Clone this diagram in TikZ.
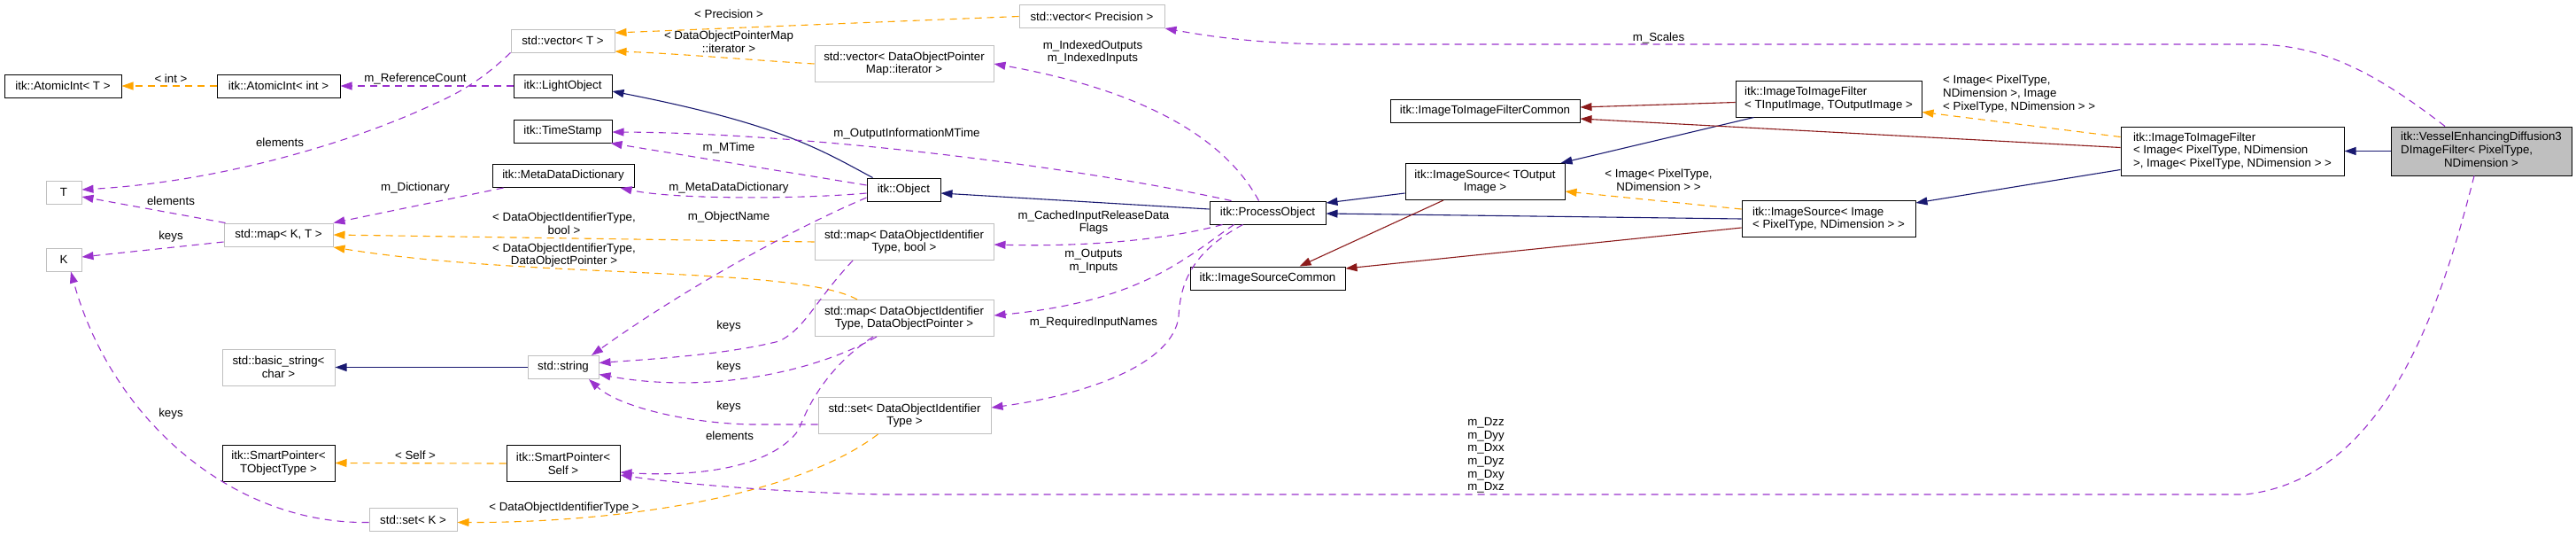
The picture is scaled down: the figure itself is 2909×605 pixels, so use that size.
\documentclass[tikz,border=0pt]{standalone}
\usepackage{fontspec}
\setmainfont{Liberation Sans}
\usetikzlibrary{arrows.meta}

\definecolor{inhblue}{HTML}{191970}
\definecolor{privred}{HTML}{8B1A1A}
\definecolor{tmplorange}{HTML}{FFA500}
\definecolor{usepurple}{HTML}{9A32CD}
\definecolor{extgray}{HTML}{BFBFBF}

\newcommand{\dxfont}{\fontsize{13.3}{14.6}\selectfont}

\tikzset{
  dx/.style={font=\dxfont, inner sep=2pt, line width=1pt},
  cls/.style={dx, draw=black, fill=white, align=center},
  ext/.style={dx, draw=extgray, fill=white, align=center},
  sz/.style 2 args={minimum width=#1pt, minimum height=#2pt},
  lbl/.style={font=\dxfont, inner sep=0pt, align=center},
  link/.style={line width=1.1pt, -{Triangle[length=13pt,width=9pt]}},
  inh/.style={link, draw=inhblue},
  priv/.style={link, draw=privred},
  tmpl/.style={link, draw=tmplorange, dash pattern=on 8pt off 6pt},
  use/.style={link, draw=usepurple, dash pattern=on 8pt off 6pt}
}

\begin{document}
\begin{tikzpicture}[x=1pt, y=-1pt]
  \useasboundingbox (0,0) rectangle (2909,605);

  % classes
  \node[cls, sz={132}{26}] (atomT) at (71,97) {itk::AtomicInt< T >};
  \node[cls, sz={139}{26}] (atomInt) at (314.5,97) {itk::AtomicInt< int >};
  \node[ext, sz={117}{26}] (vecT) at (635.5,46) {std::vector< T >};
  \node[cls, sz={111}{26}] (light) at (635.5,97) {itk::LightObject};
  \node[cls, sz={111}{26}] (tstamp) at (635.5,148) {itk::TimeStamp};
  \node[cls, sz={160}{26}] (mdd) at (636,198.5) {itk::MetaDataDictionary};
  \node[ext, sz={40}{26}] (tT) at (72,217) {T};
  \node[ext, sz={123}{26}] (mapKT) at (314.5,265) {std::map< K, T >};
  \node[ext, sz={40}{26}] (tK) at (72,293) {K};
  \node[ext, sz={127}{41}] (bstr) at (314.5,414.5) {std::basic\_string<\\char >};
  \node[ext, sz={80}{26}] (str) at (636,414.5) {std::string};
  \node[cls, sz={127}{41}] (spTOT) at (314.5,522.5) {itk::SmartPointer<\\TObjectType >};
  \node[cls, sz={128}{41}] (spSelf) at (636,523) {itk::SmartPointer<\\Self >};
  \node[ext, sz={99}{26}] (setK) at (466.5,586.5) {std::set< K >};
  \node[ext, sz={164}{26}] (vecPrec) at (1233,18.5) {std::vector< Precision >};
  \node[ext, sz={202}{41}] (vecIter) at (1021,72) {std::vector< DataObjectPointer\\Map::iterator >};
  \node[cls, sz={83}{26}] (obj) at (1020.5,214) {itk::Object};
  \node[ext, sz={202}{41}] (mapBool) at (1021,273) {std::map< DataObjectIdentifier\\Type, bool >};
  \node[ext, sz={202}{41}] (mapDOP) at (1021,359) {std::map< DataObjectIdentifier\\Type, DataObjectPointer >};
  \node[ext, sz={195}{41}] (setDOIT) at (1021.5,469) {std::set< DataObjectIdentifier\\Type >};
  \node[cls, sz={131}{26}] (proc) at (1431.5,240) {itk::ProcessObject};
  \node[cls, sz={175}{26}] (isc) at (1431.5,314) {itk::ImageSourceCommon};
  \node[cls, sz={214}{26}] (itifc) at (1677,125) {itk::ImageToImageFilterCommon};
  \node[cls, sz={210}{41}, align=left] (itifT) at (2065,111.5) {itk::ImageToImageFilter\\< TInputImage, TOutputImage >};
  \node[cls, sz={180}{41}] (isT) at (1677,205) {itk::ImageSource< TOutput\\Image >};
  \node[cls, sz={196}{41}, align=left] (isImg) at (2065,247) {itk::ImageSource< Image\\< PixelType, NDimension > >};
  \node[cls, sz={252}{55}, align=left] (itifImg) at (2521,170.5) {itk::ImageToImageFilter\\< Image< PixelType, NDimension\\ >, Image< PixelType, NDimension > >};
  \node[cls, sz={204}{55}, fill=extgray] (vessel) at (2802,170.5)
    {\begin{tabular}{@{}l@{}}itk::VesselEnhancingDiffusion3\\DImageFilter< PixelType,\\\multicolumn{1}{@{}c@{}}{NDimension >}\end{tabular}};

  % inheritance
  \draw[inh] ([xshift=7pt]obj.north west) .. controls (925,168) and (880,140) .. ([yshift=-6pt]light.east);
  \draw[inh] ([yshift=4pt]proc.west) -- ([yshift=-4pt]obj.east);
  \draw[inh] ([yshift=-13pt]isT.west) -- ([yshift=11pt]proc.east);
  \draw[inh] (isImg.west) -- ([yshift=-1pt]proc.east);
  \draw[inh] ([xshift=21pt]itifT.south west) -- ([xshift=-5pt]isT.north east);
  \draw[inh] ([yshift=-21pt]itifImg.west) -- ([yshift=18pt]isImg.east);
  \draw[inh] (vessel.west) -- (itifImg.east);
  \draw[inh] (str.west) -- (bstr.east);

  % private inheritance
  \draw[priv] ([yshift=-4pt]itifT.west) -- ([yshift=4pt]itifc.east);
  \draw[priv] ([yshift=4pt]itifImg.west) -- ([yshift=-9pt]itifc.east);
  \draw[priv] ([xshift=-47pt]isT.south) -- ([xshift=36pt]isc.north);
  \draw[priv] ([yshift=-10pt]isImg.west) -- ([yshift=11pt]isc.east);

  % template instances
  \draw[tmpl] (atomInt.west) -- (atomT.east);
  \draw[tmpl] (vecPrec.west) -- ([yshift=9pt]vecT.east);
  \draw[tmpl] (vecIter.west) .. controls (850,68) and (760,60) .. ([yshift=-12pt]vecT.east);
  \draw[tmpl] (mapBool.west) -- (mapKT.east);
  \draw[tmpl] ([xshift=-53pt]mapDOP.north) .. controls (900,300) and (600,315) .. ([yshift=-14pt]mapKT.east);
  \draw[tmpl] ([yshift=11pt]isImg.west) -- ([yshift=-11pt]isT.east);
  \draw[tmpl] ([yshift=16pt]itifImg.west) -- ([yshift=-15pt]itifT.east);
  \draw[tmpl] ([xshift=-30pt]setDOIT.south) .. controls (900,560) and (700,590) .. ([yshift=-3pt]setK.east);
  \draw[tmpl] (spSelf.west) -- (spTOT.east);

  % usage
  \draw[use] (light.west) -- (atomInt.east);
  \draw[use] (vecT.south west) .. controls (555,80) and (530,100) .. (491,117)
    .. controls (400,160) and (250,205) .. ([yshift=3pt]tT.east);
  \draw[use] ([xshift=2pt]mapKT.north west) -- ([yshift=-5pt]tT.east);
  \draw[use] ([yshift=-8pt]mapKT.west) -- ([yshift=3pt]tK.east);
  \draw[use] ([yshift=-3pt]setK.west) .. controls (260,592) and (125,470) .. ([xshift=8pt]tK.south);
  \draw[use] ([xshift=13pt]mdd.south west) -- (mapKT.north east);
  \draw[use] ([yshift=5pt]obj.west) -- ([xshift=-2pt]tstamp.south east);
  \draw[use] ([xshift=-41pt]proc.north) .. controls (1200,185) and (900,150) .. ([yshift=-1pt]tstamp.east);
  \draw[use] ([yshift=-4pt]obj.west) .. controls (900,225) and (760,225) .. ([xshift=-16pt]mdd.south east);
  \draw[use] ([yshift=-9pt]obj.west) .. controls (880,265) and (760,335) .. ([xshift=32pt]str.north);
  \draw[use] ([xshift=-10pt]proc.north) .. controls (1380,150) and (1280,100) .. (vecIter.east);
  \draw[use] ([xshift=-51pt]proc.south) .. controls (1300,275) and (1200,278) .. ([yshift=-3pt]mapBool.east);
  \draw[use] ([xshift=-38pt]proc.south) .. controls (1340,290) and (1290,340) .. ([yshift=3pt]mapDOP.east);
  \draw[use] ([xshift=-28pt]proc.south) .. controls (1345,285) and (1333,320) .. (1331,357)
    .. controls (1325,410) and (1230,445) .. ([yshift=9pt]setDOIT.east);
  \draw[use] ([xshift=-41pt]vessel.north) .. controls (2680,80) and (2620,50) .. (2544,50) -- (1513,50)
    .. controls (1420,50) and (1360,40) .. (vecPrec.south east);
  \draw[use] ([xshift=-8pt]vessel.south) .. controls (2760,330) and (2700,540) .. (2535,558) -- (1000,558)
    .. controls (880,556) and (760,545) .. ([yshift=-13pt]spSelf.east);
  \draw[use] ([xshift=-58pt]mapBool.south) .. controls (920,340) and (910,370) .. (880,385)
    .. controls (820,400) and (740,405) .. ([yshift=5pt]str.east);
  \draw[use] ([xshift=-31pt]mapDOP.south) .. controls (920,420) and (800,445) .. ([yshift=-8pt]str.east);
  \draw[use] ([yshift=-10pt]setDOIT.west) -- (850,479) .. controls (780,478) and (700,460) .. ([xshift=29pt]str.south);
  \draw[use] ([xshift=-35pt]mapDOP.south) .. controls (940,410) and (915,450) .. (902,485)
    .. controls (870,530) and (780,538) .. ([yshift=-10pt]spSelf.east);

  % edge labels
  \node[lbl] (lInt) at (193,89) {< int >};
  \node[lbl] (lPrec) at (823,16) {< Precision >};
  \node[lbl] (lIter) at (823,47) {< DataObjectPointerMap\\::iterator >};
  \node[lbl] (lBool) at (637,252) {< DataObjectIdentifierType,\\bool >};
  \node[lbl] (lPtr) at (637,288) {< DataObjectIdentifierType,\\DataObjectPointer >};
  \node[lbl] (lImgSrc) at (1873,203) {< Image< PixelType,\\NDimension > >};
  \node[lbl, align=left, anchor=west] (lImgFlt) at (2194,106) {< Image< PixelType,\\NDimension >, Image\\< PixelType, NDimension > >};
  \node[lbl] (lSetId) at (637,573) {< DataObjectIdentifierType >};
  \node[lbl] (lSelf) at (469,514) {< Self >};
  \node[lbl] (lRef) at (469,89) {m\_ReferenceCount};
  \node[lbl] (lElemA) at (316,161) {elements};
  \node[lbl] (lElemB) at (193,227) {elements};
  \node[lbl] (lKeysA) at (193,267) {keys};
  \node[lbl] (lKeysB) at (193,467) {keys};
  \node[lbl] (lDict) at (469,212) {m\_Dictionary};
  \node[lbl] (lMTime) at (823,167) {m\_MTime};
  \node[lbl] (lOutMTime) at (1024,151) {m\_OutputInformationMTime};
  \node[lbl] (lMeta) at (823,212) {m\_MetaDataDictionary};
  \node[lbl] (lName) at (823,245) {m\_ObjectName};
  \node[lbl] (lIndexed) at (1234,59) {m\_IndexedOutputs\\m\_IndexedInputs};
  \node[lbl] (lCached) at (1235,251) {m\_CachedInputReleaseData\\Flags};
  \node[lbl] (lInOut) at (1235,295) {m\_Outputs\\m\_Inputs};
  \node[lbl] (lReq) at (1235,364) {m\_RequiredInputNames};
  \node[lbl] (lScales) at (1873,43) {m\_Scales};
  \node[lbl] (lDiff) at (1678,514) {m\_Dzz\\m\_Dyy\\m\_Dxx\\m\_Dyz\\m\_Dxy\\m\_Dxz};
  \node[lbl] (lKeysC) at (823,368) {keys};
  \node[lbl] (lKeysD) at (823,414) {keys};
  \node[lbl] (lKeysE) at (823,459) {keys};
  \node[lbl] (lElemC) at (824,492) {elements};
\end{tikzpicture}
\end{document}
